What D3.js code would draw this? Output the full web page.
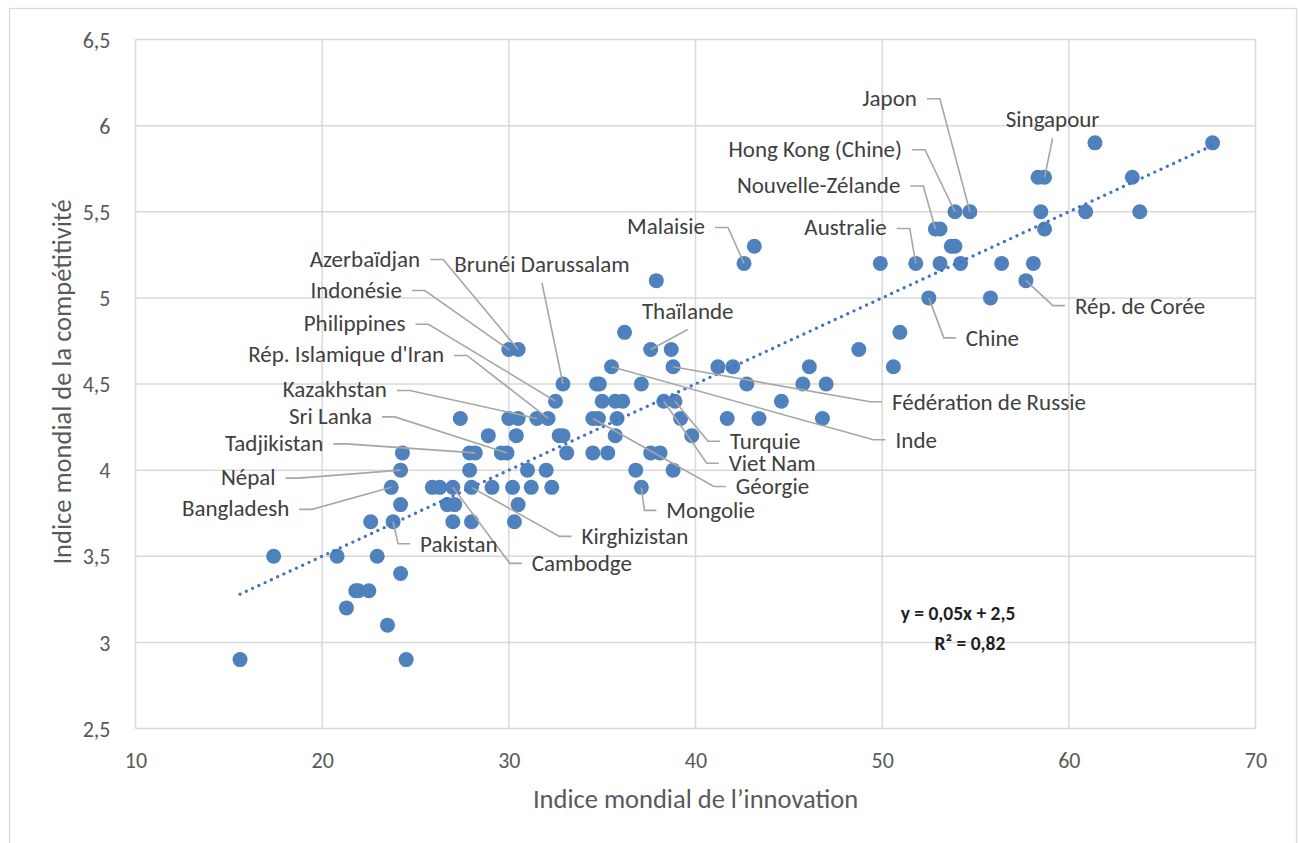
<!DOCTYPE html>
<html lang="fr">
<head>
<meta charset="utf-8">
<script src="https://cdn.jsdelivr.net/npm/d3@7"></script>
<style>
  html, body { margin: 0; padding: 0; background: #fff; }
  svg { display: block; font-family: Carlito, Calibri, Lato, "Open Sans", sans-serif; }
</style>
</head>
<body>
<svg id="chart" width="1299" height="843"></svg>
<script>
// Indice mondial de l'innovation (x) vs indice mondial de la compétitivité (y)
const countryNames = [
  "Japon", "Singapour", "Hong Kong (Chine)", "Nouvelle-Zélande", "Australie",
  "Malaisie", "Rép. de Corée", "Chine", "Azerbaïdjan", "Indonésie",
  "Brunéi Darussalam", "Thaïlande", "Philippines", "Rép. Islamique d'Iran", "Kazakhstan",
  "Sri Lanka", "Tadjikistan", "Népal", "Bangladesh", "Pakistan",
  "Cambodge", "Kirghizistan", "Mongolie", "Géorgie", "Viet Nam",
  "Turquie", "Inde", "Fédération de Russie"
];

const innovationIndex = [
  54.7, 58.7, 53.9, 52.85, 51.8,
  42.6, 57.7, 52.5, 30.5, 30.0,
  32.9, 37.6, 32.5, 32.1, 31.5,
  29.9, 28.2, 24.2, 23.7, 23.8,
  27.0, 28.0, 37.1, 34.5, 38.3,
  38.9, 35.5, 38.8,
  // autres pays
  61.4, 67.7,
  58.35, 63.4,
  58.5, 60.9, 63.8,
  53.1, 58.7,
  43.15, 53.7, 53.9,
  49.9, 53.1, 54.2, 56.4, 58.1,
  37.9,
  55.8,
  36.2, 50.95,
  38.7, 48.75,
  41.2, 42.0, 46.1, 50.6,
  34.7, 34.85, 37.1, 42.75, 45.75, 47.0,
  35.0, 35.7, 36.1, 44.6,
  27.4, 30.0, 30.5, 34.8, 35.8, 39.2, 41.7, 43.4, 46.8,
  28.9, 30.4, 32.7, 32.9, 35.7, 39.8,
  24.3, 27.9, 29.6, 33.1, 34.5, 35.3, 37.6, 38.1,
  27.9, 31.0, 32.0, 36.8, 38.8,
  25.9, 26.3, 29.1, 30.2, 31.2, 32.3,
  24.2, 26.7, 27.1, 30.5,
  22.6, 27.0, 28.0, 30.3,
  17.4, 20.8, 22.95,
  24.2,
  21.8, 21.95, 22.5,
  21.3,
  23.5,
  15.6, 24.5
];

const competitivenessIndex = [
  5.5, 5.7, 5.5, 5.4, 5.2,
  5.2, 5.1, 5.0, 4.7, 4.7,
  4.5, 4.7, 4.4, 4.3, 4.3,
  4.1, 4.1, 4.0, 3.9, 3.7,
  3.9, 3.9, 3.9, 4.3, 4.4,
  4.4, 4.6, 4.6,
  // autres pays
  5.9, 5.9,
  5.7, 5.7,
  5.5, 5.5, 5.5,
  5.4, 5.4,
  5.3, 5.3, 5.3,
  5.2, 5.2, 5.2, 5.2, 5.2,
  5.1,
  5.0,
  4.8, 4.8,
  4.7, 4.7,
  4.6, 4.6, 4.6, 4.6,
  4.5, 4.5, 4.5, 4.5, 4.5, 4.5,
  4.4, 4.4, 4.4, 4.4,
  4.3, 4.3, 4.3, 4.3, 4.3, 4.3, 4.3, 4.3, 4.3,
  4.2, 4.2, 4.2, 4.2, 4.2, 4.2,
  4.1, 4.1, 4.1, 4.1, 4.1, 4.1, 4.1, 4.1,
  4.0, 4.0, 4.0, 4.0, 4.0,
  3.9, 3.9, 3.9, 3.9, 3.9, 3.9,
  3.8, 3.8, 3.8, 3.8,
  3.7, 3.7, 3.7, 3.7,
  3.5, 3.5, 3.5,
  3.4,
  3.3, 3.3, 3.3,
  3.2,
  3.1,
  2.9, 2.9
];

const xTickValues = [10, 20, 30, 40, 50, 60, 70];
const yTickValues = [2.5, 3, 3.5, 4, 4.5, 5, 5.5, 6, 6.5];

// Linear trend as printed on the chart
const trendSlope = 0.05;
const trendIntercept = 2.5;
const trendR2 = 0.82;

const xTitle = "Indice mondial de l\u2019innovation";
const yTitle = "Indice mondial de la compétitivité";

// Label placement: offset of the text anchor from its point, and anchor side
const labelLayout = {
  "Japon":                 { dx: -53,  dy: -114, side: "left" },
  "Hong Kong (Chine)":     { dx: -53,  dy: -63,  side: "left" },
  "Nouvelle-Zélande":      { dx: -35,  dy: -44,  side: "left" },
  "Australie":             { dx: -29,  dy: -36,  side: "left" },
  "Malaisie":              { dx: -39,  dy: -37,  side: "left" },
  "Azerbaïdjan":           { dx: -98,  dy: -91,  side: "left" },
  "Indonésie":             { dx: -107, dy: -60,  side: "left" },
  "Philippines":           { dx: -150, dy: -78,  side: "left" },
  "Rép. Islamique d'Iran": { dx: -104, dy: -64,  side: "left" },
  "Kazakhstan":            { dx: -150, dy: -29,  side: "left" },
  "Sri Lanka":             { dx: -135, dy: -37,  side: "left" },
  "Tadjikistan":           { dx: -152, dy: -10,  side: "left" },
  "Népal":                 { dx: -125, dy: 7,    side: "left" },
  "Bangladesh":            { dx: -102, dy: 21,   side: "left" },
  "Pakistan":              { dx: 27,   dy: 22,   side: "right" },
  "Cambodge":              { dx: 79,   dy: 76,   side: "right" },
  "Kirghizistan":          { dx: 110,  dy: 49,   side: "right" },
  "Mongolie":              { dx: 25,   dy: 23,   side: "right" },
  "Turquie":               { dx: 55,   dy: 40,   side: "right" },
  "Viet Nam":              { dx: 65,   dy: 62,   side: "right" },
  "Géorgie":               { dx: 143,  dy: 68,   side: "right" },
  "Fédération de Russie":  { dx: 219,  dy: 35,   side: "right" },
  "Inde":                  { dx: 284,  dy: 73,   side: "right" },
  "Chine":                 { dx: 37,   dy: 40,   side: "right" },
  "Rép. de Corée":         { dx: 49,   dy: 25,   side: "right" },
  "Singapour":             { dx: 8,    dy: -58,  side: "top" },
  "Thaïlande":             { dx: 37,   dy: -39,  side: "top" },
  "Brunéi Darussalam":     { dx: -21,  dy: -120, side: "top" }
};

const points = innovationIndex.map((v, i) => ({
  name: countryNames[i] || null,
  x: v,
  y: competitivenessIndex[i]
}));

const svg = d3.select("#chart");
const plot = { left: 135.5, right: 1255.5, top: 39.5, bottom: 728.5 };

const x = d3.scaleLinear().domain([10, 70]).range([plot.left, plot.right]);
const y = d3.scaleLinear().domain([2.5, 6.5]).range([plot.bottom, plot.top]);
const fmt = v => String(v).replace(".", ",");

// Chart frame
svg.append("rect")
  .attr("x", 9.5).attr("y", 8.5)
  .attr("width", 1287).attr("height", 860)
  .attr("fill", "#fff").attr("stroke", "#d9d9d9").attr("stroke-width", 1.3);

// Gridlines
const grid = svg.append("g").attr("stroke", "#d9d9d9").attr("stroke-width", 1.5);
grid.selectAll("line.h").data(yTickValues).join("line")
  .attr("x1", plot.left).attr("x2", plot.right)
  .attr("y1", d => y(d)).attr("y2", d => y(d));
grid.selectAll("line.v").data(xTickValues).join("line")
  .attr("y1", plot.top).attr("y2", plot.bottom)
  .attr("x1", d => x(d)).attr("x2", d => x(d));

// Axes (labels only)
const xAxis = svg.append("g")
  .attr("transform", `translate(0,${plot.bottom})`)
  .call(d3.axisBottom(x).tickValues(xTickValues).tickFormat(fmt).tickSize(0).tickPadding(24));
const yAxis = svg.append("g")
  .attr("transform", `translate(${plot.left},0)`)
  .call(d3.axisLeft(y).tickValues(yTickValues).tickFormat(fmt).tickSize(0).tickPadding(25));
[xAxis, yAxis].forEach(a => {
  a.select(".domain").remove();
  a.selectAll("text")
    .attr("fill", "#595959")
    .style("font-size", "22px")
    .style("font-family", "Carlito, Calibri, Lato, sans-serif");
});
yAxis.selectAll("text").attr("dy", "0.35em");

// Axis titles
svg.append("text")
  .attr("x", (plot.left + plot.right) / 2).attr("y", 799)
  .attr("text-anchor", "middle").attr("dominant-baseline", "central")
  .attr("fill", "#595959").style("font-size", "26.5px")
  .text(xTitle);
svg.append("text")
  .attr("transform", `translate(62,${(plot.top + plot.bottom) / 2 - 2}) rotate(-90)`)
  .attr("text-anchor", "middle").attr("dominant-baseline", "central")
  .attr("fill", "#595959").style("font-size", "26.5px")
  .text(yTitle);

// Points
svg.append("g").selectAll("circle").data(points).join("circle")
  .attr("cx", d => x(d.x)).attr("cy", d => y(d.y))
  .attr("r", 7.5)
  .attr("fill", "#4f81bd");

// Trend line across the data range
const [xMin, xMax] = d3.extent(innovationIndex);
svg.append("line")
  .attr("x1", x(xMin)).attr("y1", y(trendSlope * xMin + trendIntercept))
  .attr("x2", x(xMax)).attr("y2", y(trendSlope * xMax + trendIntercept))
  .attr("stroke", "#4472c4").attr("stroke-width", 3.4)
  .attr("stroke-linecap", "round").attr("stroke-dasharray", "0 6.9");

// Data labels with leader lines
const labelled = points.filter(d => d.name && labelLayout[d.name]);
const leaders = svg.append("g").attr("fill", "none").attr("stroke", "#a6a6a6").attr("stroke-width", 1.6);
const labels = svg.append("g").attr("fill", "#404040").style("font-size", "23px");

labelled.forEach(d => {
  const L = labelLayout[d.name];
  const px = x(d.x), py = y(d.y);
  const tx = px + L.dx, ty = py + L.dy;
  labels.append("text")
    .attr("x", tx).attr("y", ty)
    .attr("dominant-baseline", "central")
    .attr("text-anchor", L.side === "left" ? "end" : L.side === "right" ? "start" : "middle")
    .text(d.name);
  let path;
  if (L.side === "left") {
    path = d3.line()([[tx + 10, ty + 1], [tx + 23, ty + 1], [px, py]]);
  } else if (L.side === "right") {
    path = d3.line()([[px, py], [tx - 22, ty], [tx - 10, ty]]);
  } else {
    path = d3.line()([[tx, ty + 19], [px, py]]);
  }
  leaders.append("path").attr("d", path);
});

// Regression equation
const eq = svg.append("g").attr("fill", "#1f1f1f").style("font-weight", "bold").style("font-size", "19.5px")
  .attr("text-anchor", "middle").attr("dominant-baseline", "central");
eq.append("text").attr("x", 958).attr("y", 613)
  .text(`y = ${fmt(trendSlope)}x + ${fmt(trendIntercept)}`);
eq.append("text").attr("x", 970).attr("y", 643)
  .text(`R\u00b2 = ${fmt(trendR2)}`);
</script>
</body>
</html>
